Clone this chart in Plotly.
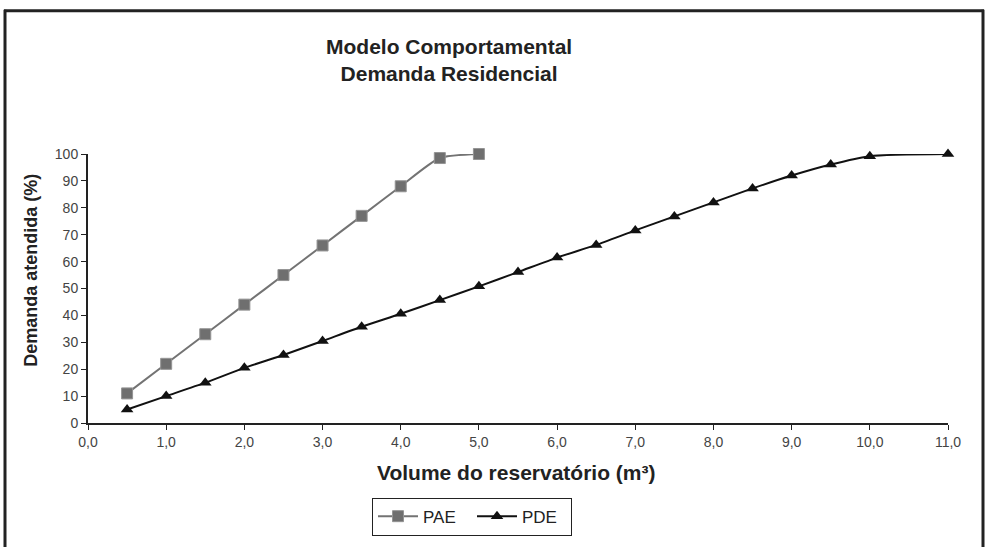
import plotly.graph_objects as go

# Volume do reservatório (m³)
pae_x = [0.5, 1.0, 1.5, 2.0, 2.5, 3.0, 3.5, 4.0, 4.5, 5.0]
pae_y = [11, 22, 33, 44, 55, 66, 77, 88, 98.5, 100]

pde_x = [0.5, 1.0, 1.5, 2.0, 2.5, 3.0, 3.5, 4.0, 4.5, 5.0,
         5.5, 6.0, 6.5, 7.0, 7.5, 8.0, 8.5, 9.0, 9.5, 10.0, 11.0]
pde_y = [5, 10, 15, 20.5, 25.3, 30.5, 35.8, 40.6, 45.7, 50.8,
         56.1, 61.5, 66.2, 71.6, 76.8, 82, 87.2, 92, 96.1, 99.2, 100]

x_ticks = list(range(0, 12))
y_ticks = list(range(0, 101, 10))

FONT = "Liberation Sans, Arial, sans-serif"
W, H = 985, 547
L, R, T, B = 88, 37, 154, 119
PW, PH = W - L - R, H - T - B


def px_x(p):
    return (p - L) / PW


def px_y(p):
    return (H - B - p) / PH


fig = go.Figure()
fig.add_trace(
    go.Scatter(
        x=pae_x, y=pae_y, name="PAE", mode="lines+markers", cliponaxis=False,
        line={"color": "#737373", "width": 2, "shape": "spline", "smoothing": 0.6},
        marker={"symbol": "square", "size": 11, "color": "#6f6f6f",
                "line": {"color": "#949494", "width": 1}},
    )
)
fig.add_trace(
    go.Scatter(
        x=pde_x, y=pde_y, name="PDE", mode="lines+markers", cliponaxis=False,
        line={"color": "#111111", "width": 2, "shape": "spline", "smoothing": 0.6},
        marker={"symbol": "triangle-up", "size": 11, "color": "#111111"},
    )
)

# frame around the figure (left, top, right; bottom cut off)
frame = {"type": "line", "xref": "paper", "yref": "paper",
         "line": {"color": "#222222", "width": 3}}
fig.add_shape(**frame, x0=px_x(5), x1=px_x(5), y0=px_y(7), y1=px_y(560))
fig.add_shape(**frame, x0=px_x(4), x1=px_x(984), y0=px_y(8), y1=px_y(8))
fig.add_shape(**frame, x0=px_x(983), x1=px_x(983), y0=px_y(7), y1=px_y(560))

fig.add_annotation(
    text="<b>Modelo Comportamental<br>Demanda Residencial</b>",
    xref="paper", yref="paper", x=px_x(449), y=px_y(58),
    xanchor="center", yanchor="middle",
    showarrow=False, font={"size": 21, "color": "#222222", "family": FONT},
)
fig.add_annotation(
    text="<b>Demanda atendida (%)</b>",
    xref="paper", yref="paper", x=px_x(31), y=px_y(273), textangle=-90,
    xanchor="center", yanchor="middle",
    showarrow=False, font={"size": 18, "color": "#222222", "family": FONT},
)
fig.add_annotation(
    text="<b>Volume do reservatório (m³)</b>",
    xref="paper", yref="paper", x=px_x(516), y=px_y(478),
    xanchor="center", yanchor="middle",
    showarrow=False, font={"size": 21, "color": "#222222", "family": FONT},
)

fig.update_layout(
    width=W, height=H,
    margin={"l": L, "r": R, "t": T, "b": B},
    paper_bgcolor="white", plot_bgcolor="white",
    separators=",.",
    font={"family": FONT, "size": 14, "color": "#444444"},
    showlegend=True,
    legend={
        "orientation": "h", "x": px_x(472), "xanchor": "center",
        "y": px_y(504), "yanchor": "top",
        "bordercolor": "#222222", "borderwidth": 1,
        "font": {"size": 17, "color": "#222222"},
        "itemwidth": 40, "entrywidth": 44,
    },
    xaxis={
        "range": [0, 11], "tickvals": x_ticks, "tickformat": ".1f",
        "showgrid": False, "zeroline": False,
        "showline": True, "linecolor": "#222222", "linewidth": 2,
        "ticks": "outside", "ticklen": 5, "tickcolor": "#222222",
    },
    yaxis={
        "range": [0, 100], "tickvals": y_ticks,
        "showgrid": False, "zeroline": False,
        "showline": True, "linecolor": "#222222", "linewidth": 2,
        "ticks": "outside", "ticklen": 5, "tickcolor": "#222222",
    },
)

fig.write_html(
    "out.html",
    config={"displayModeBar": False},
    post_script="document.body.style.margin='0';",
)
